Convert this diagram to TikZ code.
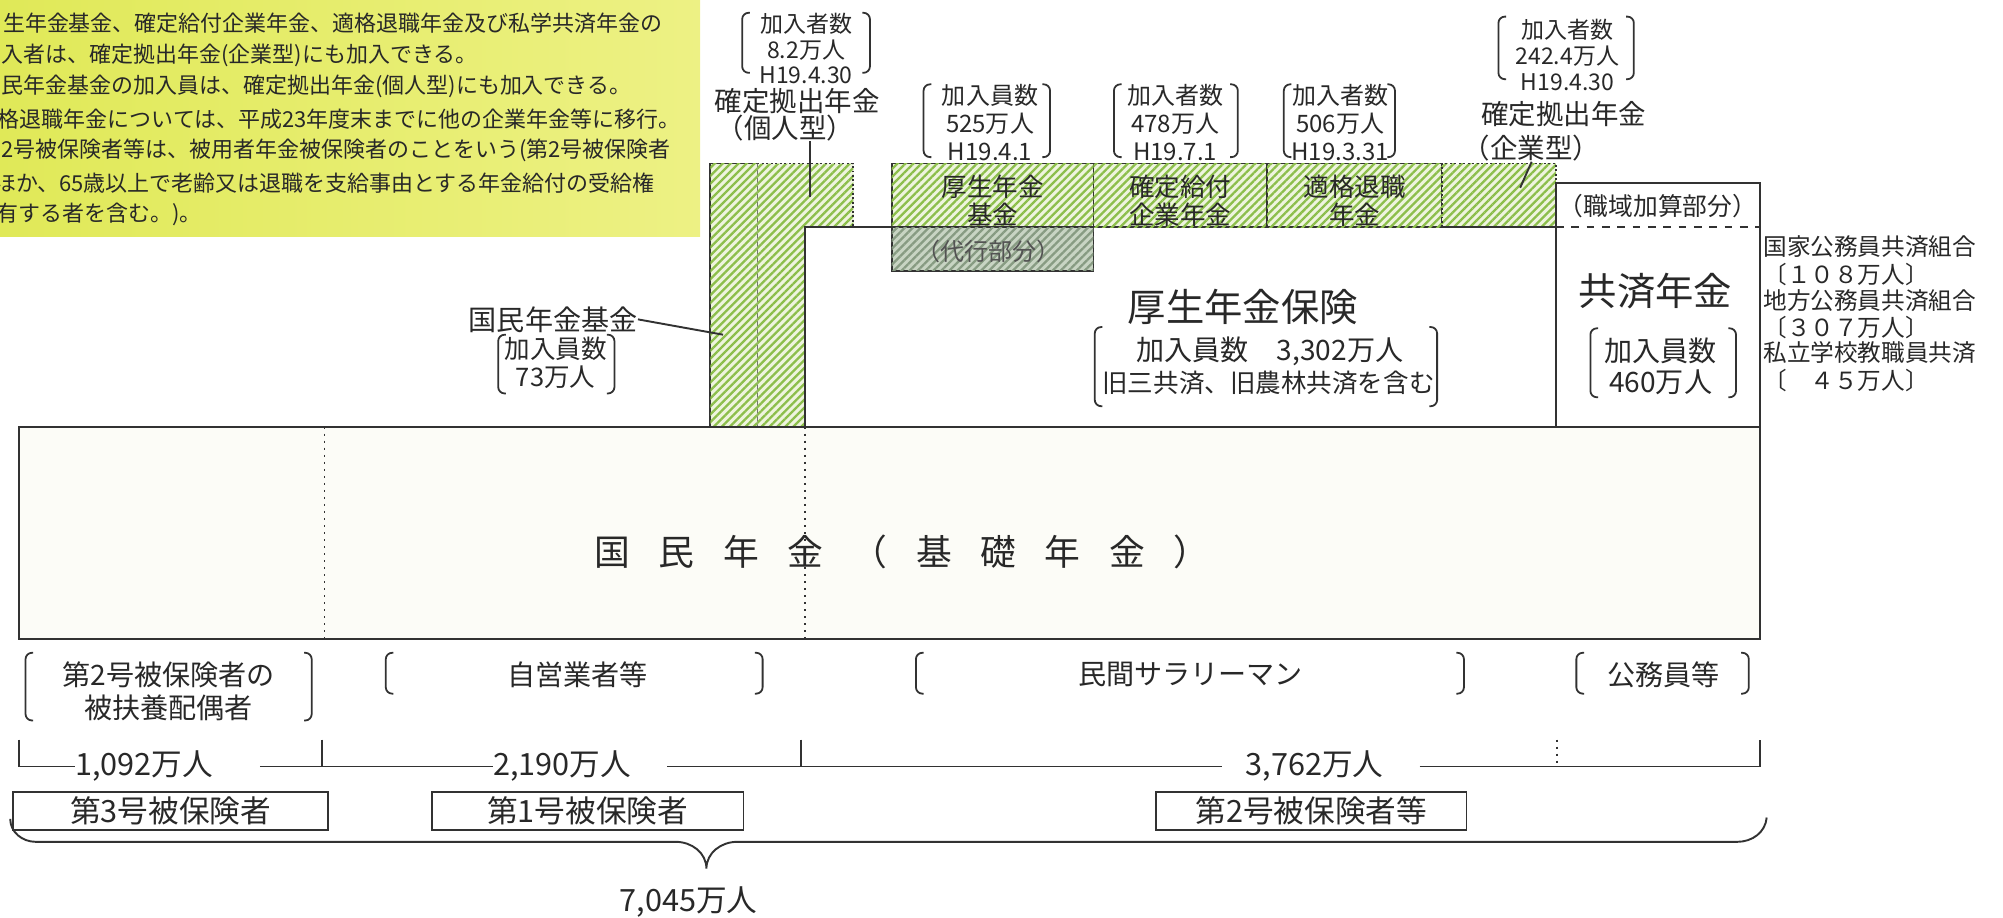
\documentclass[tikz,border=0pt]{standalone}
\usepackage{fontspec}
\setmainfont{Noto Sans CJK JP}
\usetikzlibrary{patterns.meta}
\definecolor{linec}{RGB}{50,50,50}
\definecolor{txtc}{RGB}{40,40,40}
\definecolor{hatchg}{RGB}{140,190,75}
\definecolor{hatchbg}{RGB}{238,244,222}
\definecolor{daikog}{RGB}{135,155,130}
\definecolor{daikobg}{RGB}{200,212,195}
\definecolor{notel}{RGB}{224,233,88}
\definecolor{noter}{RGB}{237,241,132}
\definecolor{basebg}{RGB}{252,252,247}
\newcommand{\kgap}{\hspace{0.8em}}

\begin{document}
\begin{tikzpicture}[x=0.5pt,y=-0.5pt,
  line/.style={draw=linec,line width=0.75pt},
  brk/.style={draw=linec,line width=0.7pt,rounded corners=2.5pt},
  hatch/.style={fill=hatchbg,postaction={pattern={Lines[angle=45,distance=2.2pt,line width=0.9pt]},pattern color=hatchg}},
  daiko/.style={fill=daikobg,postaction={pattern={Lines[angle=45,distance=2.2pt,line width=0.9pt]},pattern color=daikog}},
  note/.style={anchor=west,inner sep=0pt,text=txtc,font=\fontsize{8.6pt}{10pt}\selectfont},
  sml/.style={inner sep=0pt,align=center,text=txtc,font=\fontsize{9pt}{10pt}\selectfont},
  mid/.style={inner sep=0pt,align=center,text=txtc,font=\fontsize{9.4pt}{11pt}\selectfont},
  ttl/.style={inner sep=0pt,text=txtc,font=\fontsize{10.75pt}{12pt}\selectfont},
  big/.style={inner sep=0pt,text=txtc,font=\fontsize{15pt}{18pt}\selectfont},
  cat/.style={inner sep=0pt,align=center,text=txtc,font=\fontsize{11pt}{13pt}\selectfont},
  num/.style={inner sep=0pt,text=txtc,font=\fontsize{12pt}{14pt}\selectfont},
  lst/.style={anchor=west,inner sep=0pt,text=txtc,font=\fontsize{9.25pt}{11pt}\selectfont},
  tag/.style={draw=linec,line width=0.75pt,minimum height=15pt,inner sep=0pt,text=txtc,font=\fontsize{12pt}{14pt}\selectfont}]
\useasboundingbox (0,0) rectangle (1568,718.6);

% notes (cut at the left edge)
\shade[left color=notel,right color=noter] (0,0) rectangle (548,185);
\begin{scope}
\clip (0,0) rectangle (548,185);
\foreach \yy/\xx/\t [count=\i] in {
  18/2/{生年金基金、確定給付企業年金、適格退職年金及び私学共済年金の},
  43/1/{入者は、確定拠出年金(企業型)にも加入できる。},
  68/1/{民年金基金の加入員は、確定拠出年金(個人型)にも加入できる。},
  93/-2/{格退職年金については、平成23年度末までに他の企業年金等に移行。},
  118/1/{2号被保険者等は、被用者年金被保険者のことをいう(第2号被保険者},
  143/-5/{ほか、65歳以上で老齢又は退職を支給事由とする年金給付の受給権},
  168/-3/{有する者を含む。)。}}
  \node[note] (note\i) at (\xx,\yy) {\t};
\end{scope}

% hatched parts
\draw[line,hatch] (556,128) rectangle (593,334);
\path[hatch] (593,128) -- (668,128) -- (668,178) -- (630,178) -- (630,334) -- (593,334) -- cycle;
\draw[line,densely dotted] (593,128) -- (668,128) -- (668,178);
\foreach \xa/\xb/\t/\nm in {698/856/{厚生年金\\基金}/kkikin, 856/992/{確定給付\\企業年金}/kakutei, 992/1129/{適格退職\\年金}/tekikaku}
{
  \draw[line,hatch] (\xa,128) rectangle (\xb,178);
  \node[mid,font=\fontsize{10pt}{11pt}\selectfont] (\nm) at ({(\xa+\xb)/2},157) {\t};
}
\path[hatch] (1129,128) rectangle (1218,178);
\draw[line,densely dotted] (1129,178) -- (1129,128) -- (1218,128) -- (1218,178);
\draw[line] (1129,178) -- (1218,178);
\draw[line,daiko] (698,178) rectangle (856,212);
\node[mid,text=txtc!80] (daikotxt) at (774,197) {（代行部分）};

% kosei nenkin hoken and kyosai nenkin
\draw[line] (630,334) -- (630,178) -- (698,178);
\draw[line] (1218,334) -- (1218,143) -- (1378,143) -- (1378,334);
\draw[line,dashed] (1218,178) -- (1378,178);
\node[mid,font=\fontsize{9.7pt}{11pt}\selectfont] (shokuiki) at (1298,161) {（職域加算部分）};
\node[big] (kosei) at (973,240) {厚生年金保険};
\node[cat] (koseinum) at (994,275) {加入員数　3,302万人};
\node[cat,font=\fontsize{10pt}{12pt}\selectfont] (koseinote) at (993,300) {旧三共済、旧農林共済を含む};
\node[big] (kyosai) at (1296,228) {共済年金};
\node[cat,font=\fontsize{11pt}{12pt}\selectfont] (kyosainum) at (1300,287) {加入員数\\460万人};
\foreach \yy/\t [count=\i] in {193/国家公務員共済組合, 215/〔１０８万人〕, 235/地方公務員共済組合, 256/〔３０７万人〕, 276/私立学校教職員共済, 298/〔　４５万人〕}
  \node[lst] (list\i) at (1380,\yy) {\t};

% kakutei kyoshutsu nenkin
\node[sml] (kojinnum) at (631,38) {加入者数\\8.2万人\\H19.4.30};
\node[ttl] (kojin) at (624,79) {確定拠出年金};
\node[ttl] (kojinp) at (615,100) {（個人型）};
\coordinate (kojinpt) at (634,154);
\draw[line] ([xshift=9.5pt]kojinp.south) -- (kojinpt);
\node[sml] (kigyonum) at (1227,43) {加入者数\\242.4万人\\H19.4.30};
\node[ttl] (kigyo) at (1224,89) {確定拠出年金};
\node[ttl] (kigyop) at (1199,116) {（企業型）};
\coordinate (kigyopt) at (1190,147);
\draw[line] (kigyop.south) -- (kigyopt);
\node[mid] (kkikinnum) at (775,96) {加入員数\\525万人\\H19.4.1};
\node[mid] (kakuteinum) at (920,96) {加入者数\\478万人\\H19.7.1};
\node[mid] (tekikakunum) at (1049,96) {加入者数\\506万人\\H19.3.31};

% kokumin nenkin kikin
\node[cat] (kikin) at (433,250) {国民年金基金};
\node[cat,font=\fontsize{10pt}{11pt}\selectfont] (kikinnum) at (435,284) {加入員数\\73万人};
\coordinate (kikinpt) at (566,262);
\draw[line] (kikin.east) -- (kikinpt);

% brackets
\foreach \xl/\xr/\yt/\yb in {581/681/10/57, 723/822/66/123, 872/969/66/123, 1005/1092/66/123,
  1173/1279/13/62, 390/481/262/308, 857/1125/256/318, 1245/1359/257/311,
  20/244/511/564, 302/597/511/543, 717/1146/511/543, 1234/1369/511/543}
{
  \draw[brk] (\xl+6,\yt) -- (\xl,\yt) -- (\xl,\yb) -- (\xl+6,\yb);
  \draw[brk] (\xr-6,\yt) -- (\xr,\yt) -- (\xr,\yb) -- (\xr-6,\yb);
}

% kokumin nenkin (kiso nenkin)
\draw[line,fill=basebg] (15,334) rectangle (1378,500);
\draw[line,dotted] (254,334) -- (254,500);
\draw[line,dotted] (630,334) -- (630,500);
\node[inner sep=0pt,text=txtc,font=\fontsize{14pt}{16pt}\selectfont] (kokumin) at (706,432)
  {国\kgap 民\kgap 年\kgap 金\kgap （\kgap 基\kgap 礎\kgap 年\kgap 金\kgap ）};

% insured persons
\node[cat] (haigu) at (132,541) {第2号被保険者の\\被扶養配偶者};
\node[cat] (jiei) at (452,528) {自営業者等};
\node[cat] (minkan) at (932,528) {民間サラリーマン};
\node[cat] (komuin) at (1302,528) {公務員等};

\node[num] (n1092) at (113,600) {1,092万人};
\node[num] (n2190) at (440,600) {2,190万人};
\node[num] (n3762) at (1029,600) {3,762万人};
\draw[line] (15,579) -- (15,600) -- (n1092.west);
\draw[line,shorten <=18pt] (n1092.east) -- (n2190.west);
\draw[line,shorten <=14pt,shorten >=9pt] (n2190.east) -- (n3762.west);
\draw[line,shorten <=14pt] (n3762.east) -- (1378,600) -- (1378,579);
\draw[line] (252,579) -- (252,600);
\draw[line] (627,579) -- (627,600);
\draw[line,dotted] (1219,579) -- (1219,600);

\node[tag,minimum width=123.5pt] (gou3) at (133.5,635) {第3号被保険者};
\node[tag,minimum width=122pt] (gou1) at (460,635) {第1号被保険者};
\node[tag,minimum width=121.5pt] (gou2) at (1026.5,635) {第2号被保険者等};

\draw[line] (8,641) to[out=-90,in=180] (28,659) -- (529,659) to[out=0,in=90] (553,680)
  to[out=90,in=180] (577,659) -- (1360,659) to[out=0,in=-95] (1383,640);
\node[num] (total) at (539,706) {7,045万人};
\end{tikzpicture}
\end{document}
